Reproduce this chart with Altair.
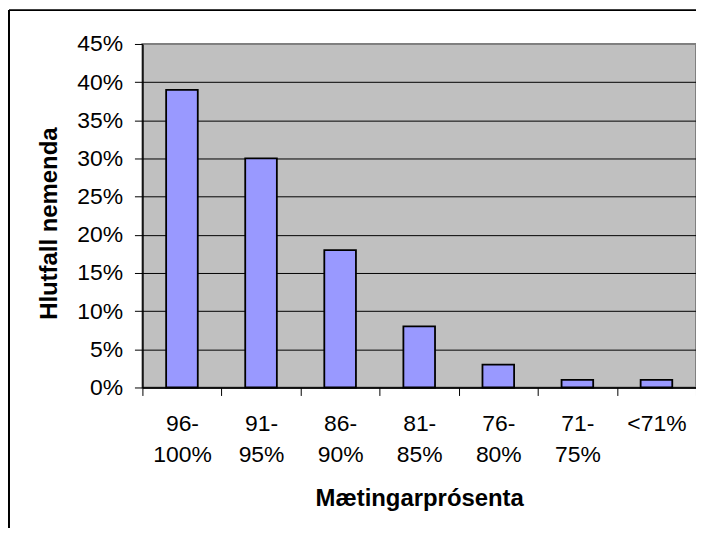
import altair as alt
import pandas as pd

categories = ["96-100%", "91-95%", "86-90%", "81-85%", "76-80%", "71-75%", "<71%"]
shares = [0.39, 0.30, 0.18, 0.08, 0.03, 0.01, 0.01]
y_ticks = [0, 0.05, 0.10, 0.15, 0.20, 0.25, 0.30, 0.35, 0.40, 0.45]

df = pd.DataFrame({"cat": categories, "share": shares})
border_df = pd.DataFrame({"k": [0]})

FONT = "Liberation Sans"
W, H = 556, 345

label_expr = ("isString(datum.value) ? (indexof(datum.value, '-') > 0 ? "
              "[slice(datum.value, 0, indexof(datum.value, '-') + 1), "
              "slice(datum.value, indexof(datum.value, '-') + 1)] : datum.value) : ''")

bars = alt.Chart(df).mark_bar(
    color="#9999FF", stroke="#000000", strokeWidth=1.8,
    width=alt.RelativeBandSize(0.4)
).encode(
    x=alt.X("cat:N", sort=categories,
            scale=alt.Scale(paddingInner=0, paddingOuter=0),
            axis=alt.Axis(title="Mætingarprósenta", labelAngle=0, tickBand="extent",
                          labelExpr=label_expr, labelLineHeight=31, labelBaseline="top",
                          labelPadding=17, tickSize=8, labelOverlap=False,
                          titlePadding=21, grid=False)),
    y=alt.Y("share:Q", scale=alt.Scale(domain=[0, 0.45]),
            axis=alt.Axis(title="Hlutfall nemenda", values=y_ticks, format=".0%",
                          tickSize=8, labelPadding=12,
                          gridColor=alt.condition("datum.value > 0.44",
                                                  alt.value("#808080"), alt.value("#000000")),
                          titleX=-93, titleY=180, titleAngle=-90,
                          titleBaseline="middle", titleAlign="center"))
)

top_border = alt.Chart(border_df).mark_rule(color="#000000", strokeWidth=2).encode(
    x=alt.value(-134), x2=alt.value(W + 200), y=alt.value(-34))
left_border = alt.Chart(border_df).mark_rule(color="#000000", strokeWidth=2).encode(
    x=alt.value(-134), y=alt.value(-34), y2=alt.value(H + 300))

chart = alt.layer(bars, top_border, left_border).properties(
    width=W, height=H,
    padding={"left": 135, "top": 35, "right": 0, "bottom": 140},
    autosize=alt.AutoSizeParams(type="none"),
    background="#FFFFFF",
).configure_view(
    fill="#C0C0C0", stroke="#808080", strokeWidth=2
).configure_axis(
    labelFont=FONT, labelFontSize=23, labelColor="#000000",
    titleFont=FONT, titleFontSize=24, titleFontWeight="bold", titleColor="#000000",
    domainColor="#000000", domainWidth=1.5, tickColor="#000000", tickWidth=1,
    gridWidth=1,
)

chart.save("out.html", embed_options={"renderer": "svg", "actions": False})
